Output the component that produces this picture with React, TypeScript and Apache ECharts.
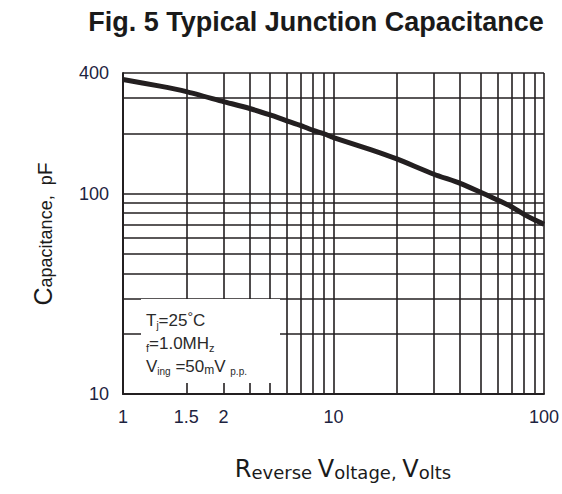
import React, { useEffect, useRef } from "react";
import * as echarts from "echarts";

// Reverse voltage (V) and junction capacitance (pF)
const voltage = [1, 1.5, 2, 3, 4, 5, 6, 7, 8, 9, 10, 15, 20, 30, 40, 50, 60, 70, 80, 90, 100];
const capacitance = [371, 344, 323, 288, 266, 247, 231, 218.5, 207, 199, 190.5, 166, 149, 125, 112.6, 101.6, 93, 86, 79, 74, 70.3];

// Grid lines and tick labels
const xGridValues = [1, 2, 3, 4, 5, 6, 7, 8, 9, 10, 20, 30, 40, 50, 60, 70, 80, 90, 100];
const xLabelValues = [1, 2, 3, 10, 100];
const xLabelTexts = ["1", "1.5", "2", "10", "100"];
const yGridValues = [10, 20, 30, 40, 50, 60, 70, 80, 90, 100, 200, 300, 400];
const yLabelValues = [10, 100, 400];
const yLabelTexts = ["10", "100", "400"];

const INK = "#231f20";
const LABEL = "#1d2340";

function lookup(values: number[], texts: string[], v: number): string {
  for (let i = 0; i < values.length; i++) {
    if (Math.abs(values[i] - v) / values[i] < 1e-6) return texts[i];
  }
  return "";
}

export default function App() {
  const ref = useRef<HTMLDivElement>(null);
  useEffect(() => {
    if (!ref.current) return;
    const chart = echarts.init(ref.current, null, { renderer: "svg" });
    const boxFont = "Liberation Sans";
    const option: any = {
      animation: false,
      backgroundColor: "#ffffff",
      grid: { left: 123, right: 15, top: 73, bottom: 100, containLabel: false },
      xAxis: {
        type: "log",
        logBase: 10,
        min: 1,
        max: 100,
        axisLine: { show: true, onZero: false, lineStyle: { color: INK, width: 2 } },
        axisTick: { show: false, customValues: xGridValues },
        axisLabel: {
          customValues: xLabelValues,
          formatter: (v: number) => lookup(xLabelValues, xLabelTexts, v),
          fontSize: 18,
          color: LABEL,
          margin: 14,
          fontFamily: "Liberation Sans",
        },
        splitLine: { show: true, lineStyle: { color: INK, width: 1.6 } },
      },
      yAxis: {
        type: "log",
        logBase: 10,
        min: 10,
        max: 400,
        axisLine: { show: true, onZero: false, lineStyle: { color: INK, width: 2 } },
        axisTick: { show: false, customValues: yGridValues },
        axisLabel: {
          customValues: yLabelValues,
          formatter: (v: number) => lookup(yLabelValues, yLabelTexts, v),
          fontSize: 18,
          color: LABEL,
          margin: 14,
          fontFamily: "Liberation Sans",
        },
        splitLine: { show: true, lineStyle: { color: INK, width: 1.6 } },
      },
      series: [
        {
          type: "line",
          data: voltage.map((v, i) => [v, capacitance[i]]),
          smooth: 0.2,
          symbol: "none",
          lineStyle: { color: INK, width: 5, join: "round", cap: "butt" },
          z: 5,
        },
      ],
      graphic: [
        {
          type: "text",
          x: 316,
          y: 22,
          style: {
            text: "Fig. 5 Typical Junction Capacitance",
            font: "bold 27px 'Liberation Sans'",
            fill: "#1a1a1a",
            textAlign: "center",
            textVerticalAlign: "middle",
          },
        },
        {
          type: "rect",
          shape: { x: 141, y: 299, width: 139, height: 84 },
          style: { fill: "#ffffff" },
          z: 10,
        },
        {
          type: "text",
          x: 146,
          y: 320,
          z: 11,
          style: {
            text: "{b|T}{s|j}{b|=25}{sup|°}{b|C}",
            textVerticalAlign: "middle",
            rich: {
              b: { fontSize: 17, fontFamily: boxFont, fill: "#2a2a2a", lineHeight: 20 },
              s: { fontSize: 10, fontFamily: boxFont, fill: "#2a2a2a", verticalAlign: "bottom", lineHeight: 20 },
              sup: { fontSize: 14, fontFamily: boxFont, fill: "#2a2a2a", verticalAlign: "top", lineHeight: 20 },
            },
          },
        },
        {
          type: "text",
          x: 146,
          y: 343,
          z: 11,
          style: {
            text: "{s|f}{b|=1.0MH}{s|z}",
            textVerticalAlign: "middle",
            rich: {
              b: { fontSize: 17, fontFamily: boxFont, fill: "#2a2a2a", lineHeight: 20 },
              s: { fontSize: 11, fontFamily: boxFont, fill: "#2a2a2a", verticalAlign: "bottom", lineHeight: 20 },
            },
          },
        },
        {
          type: "text",
          x: 146,
          y: 366,
          z: 11,
          style: {
            text: "{b|V}{s|ing}{b| =50}{m|m}{b|V }{s|p.p.}",
            textVerticalAlign: "middle",
            rich: {
              b: { fontSize: 17, fontFamily: boxFont, fill: "#2a2a2a", lineHeight: 20 },
              s: { fontSize: 10, fontFamily: boxFont, fill: "#2a2a2a", verticalAlign: "bottom", lineHeight: 20 },
              m: { fontSize: 12, fontFamily: boxFont, fill: "#2a2a2a", verticalAlign: "bottom", lineHeight: 20 },
            },
          },
        },
        {
          type: "text",
          x: 343,
          y: 468,
          style: {
            text: "{C|R}{l|everse }{C|V}{l|oltage, }{C|V}{l|olts}",
            textAlign: "center",
            textVerticalAlign: "middle",
            rich: {
              C: { fontSize: 24, fontFamily: "DejaVu Sans", fill: "#1a1a1a", lineHeight: 26, verticalAlign: "bottom" },
              l: { fontSize: 18, fontFamily: "DejaVu Sans", fill: "#1a1a1a", lineHeight: 26, verticalAlign: "bottom" },
            },
          },
        },
        {
          type: "text",
          x: 41,
          y: 234,
          rotation: Math.PI / 2,
          style: {
            text: "{C|C}{l|apacitance,  p}{F|F}",
            textAlign: "center",
            textVerticalAlign: "middle",
            rich: {
              C: { fontSize: 25, fontFamily: "Liberation Sans", fill: "#1a1a1a", lineHeight: 28, verticalAlign: "bottom" },
              l: { fontSize: 18, fontFamily: "Liberation Sans", fill: "#1a1a1a", lineHeight: 28, verticalAlign: "bottom" },
              F: { fontSize: 21, fontFamily: "Liberation Sans", fill: "#1a1a1a", lineHeight: 28, verticalAlign: "bottom" },
            },
          },
        },
      ],
    };
    chart.setOption(option);
    return () => chart.dispose();
  }, []);
  return (
    <div
      ref={ref}
      style={{ position: "fixed", left: 0, top: 0, width: 562, height: 494, background: "#fff" }}
    />
  );
}
